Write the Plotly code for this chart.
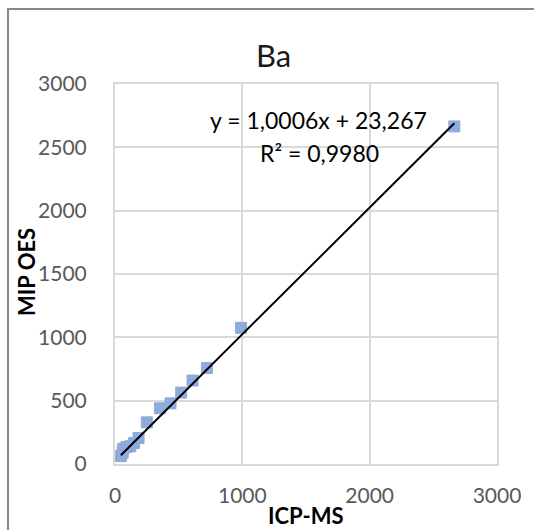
import plotly.graph_objects as go

# Ba concentrations: ICP-MS reference values vs MIP OES results
icp_ms = [46, 60, 65, 90, 120, 150, 185, 250, 353, 436, 520, 609, 722, 990, 2665]
mip_oes = [62, 90, 120, 135, 140, 165, 205, 329, 440, 479, 564, 659, 758, 1075, 2665]

# Linear fit reported on the chart
slope = 1.0006
intercept = 23.267
r_squared = 0.9980

x_ticks = [0, 1000, 2000, 3000]
y_ticks = [0, 500, 1000, 1500, 2000, 2500, 3000]

W, H = 534, 530
ML, MR, MT, MB = 115, 37, 84, 66
PW, PH = W - ML - MR, H - MT - MB

FONT = "Lato, 'Open Sans', sans-serif"
TICK_COLOR = "#595959"
GRID = "#d9d9d9"


def px_x(p):
    return (p - ML) / PW


def px_y(p):
    return 1 - (p - MT) / PH


def fmt(v, nd):
    return f"{v:.{nd}f}".replace(".", ",")


fig = go.Figure()

fig.add_trace(go.Scatter(
    x=icp_ms, y=mip_oes, mode="markers",
    marker=dict(symbol="square", size=11, color="#8faadc",
                line=dict(width=1, color="#8faadc")),
    showlegend=False, hoverinfo="x+y",
))

x_lo, x_hi = min(icp_ms), max(icp_ms)
fig.add_trace(go.Scatter(
    x=[x_lo, x_hi],
    y=[slope * x_lo + intercept, slope * x_hi + intercept],
    mode="lines", line=dict(color="black", width=2),
    showlegend=False, hoverinfo="skip",
))

axis_common = dict(
    showgrid=True, gridcolor=GRID, gridwidth=2,
    showline=True, linecolor=GRID, linewidth=2, mirror=True,
    zeroline=False, ticks="", tickmode="array",
    tickfont=dict(family=FONT, size=21, color=TICK_COLOR),
    range=[0, 3000], fixedrange=True,
)

fig.update_xaxes(tickvals=x_ticks, ticktext=[str(v) for v in x_ticks],
                 ticklabelstandoff=12, **axis_common)
fig.update_yaxes(tickvals=y_ticks, ticktext=[str(v) for v in y_ticks],
                 ticklabelstandoff=22, **axis_common)

annotations = [
    dict(text="Ba", xref="paper", yref="paper", x=px_x(273), y=px_y(55),
         showarrow=False, xanchor="center", yanchor="middle",
         font=dict(family=FONT, size=31, color="#1a1a1a")),
    dict(text="<b>ICP-MS</b>", xref="paper", yref="paper", x=px_x(306), y=px_y(515),
         showarrow=False, xanchor="center", yanchor="middle",
         font=dict(family=FONT, size=22, color="black")),
    dict(text="<b>MIP OES</b>", xref="paper", yref="paper", x=px_x(26), y=px_y(272),
         showarrow=False, xanchor="center", yanchor="middle", textangle=-90,
         font=dict(family=FONT, size=22, color="black")),
    dict(text=f"y = {fmt(slope, 4)}x + {fmt(intercept, 3)}", xref="paper", yref="paper",
         x=px_x(318), y=px_y(120), showarrow=False, xanchor="center", yanchor="middle",
         font=dict(family=FONT, size=23, color="black")),
    dict(text=f"R² = {fmt(r_squared, 4)}", xref="paper", yref="paper",
         x=px_x(319), y=px_y(153), showarrow=False, xanchor="center", yanchor="middle",
         font=dict(family=FONT, size=23, color="black")),
]

# chart-area frame
shapes = [dict(type="rect", xref="paper", yref="paper",
               x0=px_x(8), x1=px_x(W + 20), y0=px_y(H + 20), y1=px_y(9),
               line=dict(color="#898989", width=2), fillcolor="rgba(0,0,0,0)",
               layer="below")]

fig.update_layout(
    width=W, height=H,
    margin=dict(l=ML, r=MR, t=MT, b=MB),
    paper_bgcolor="white", plot_bgcolor="white",
    annotations=annotations, shapes=shapes,
    font=dict(family=FONT),
)

fig.write_html("out.html")
